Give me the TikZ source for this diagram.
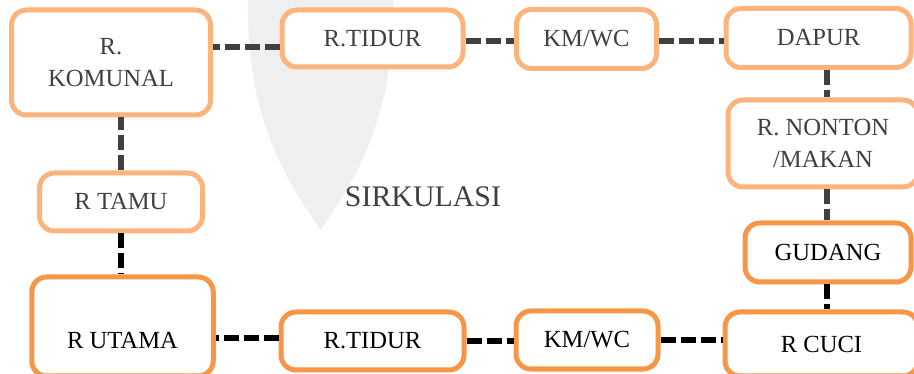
\documentclass[tikz,border=0pt]{standalone}
\usepackage{fontspec}
\setmainfont{Liberation Serif}
\usetikzlibrary{positioning, calc}

\definecolor{orangelight}{RGB}{250,180,124}
\definecolor{orangedark}{RGB}{247,150,70}
\definecolor{inkgray}{RGB}{64,64,64}
\definecolor{pingray}{RGB}{239,239,239}

\tikzset{
  room/.style={draw, rounded corners=0.3cm, line width=0.1cm, fill=white,
    align=center, inner sep=0pt, font=\fontsize{14}{18}\selectfont},
  roomlight/.style={room, draw=orangelight, text=inkgray},
  roomdark/.style={room, draw=orangedark, text=black},
  link/.style={line width=0.12cm, dash pattern=on 0.3cm off 0.1cm, draw=inkgray},
  linkdark/.style={link, draw=black}
}

\begin{document}
\begin{tikzpicture}
      \useasboundingbox (0,0) rectangle (18.28,7.48);
      % faint pin shape behind the plan
      \fill[pingray] (4.96,7.6) .. controls (4.9,5.0) and (5.8,3.8) .. (6.41,2.88)
        .. controls (7.02,3.8) and (7.92,5.0) .. (7.86,7.6) -- cycle;

      % top row
      \node[roomlight, minimum width=3.98cm, minimum height=2.10cm] (komunal) at (2.22,6.23) {R.\\KOMUNAL};
      \node[roomlight, minimum width=3.62cm, minimum height=1.14cm] (tidurA) at (7.45,6.71) {R.TIDUR};
      \node[roomlight, minimum width=2.80cm, minimum height=1.18cm] (kmwcA) at (11.73,6.70) {KM/WC};
      \node[roomlight, minimum width=3.70cm, minimum height=1.18cm] (dapur) at (16.37,6.72) {DAPUR};

      % right column
      \node[roomlight, minimum width=3.80cm, minimum height=1.74cm] (nonton) at (16.46,4.61) {R. NONTON\\/MAKAN};
      \node[roomdark, minimum width=3.32cm, minimum height=1.18cm] (gudang) at (16.56,2.43) {GUDANG};
      \node[roomdark, minimum width=3.86cm, minimum height=1.28cm] (cuci) at (16.43,0.60) {R CUCI};

      % left column and bottom row
      \node[roomlight, minimum width=3.26cm, minimum height=1.16cm] (tamu) at (2.42,3.44) {R TAMU};
      \node[roomdark, minimum width=3.63cm, minimum height=1.98cm, text height=0.87cm, text depth=0pt] (utama) at (2.45,0.95) {R UTAMA};
      \node[roomdark, minimum width=3.66cm, minimum height=1.16cm] (tidurB) at (7.45,0.66) {R.TIDUR};
      \node[roomdark, minimum width=2.84cm, minimum height=1.16cm] (kmwcB) at (11.74,0.68) {KM/WC};

      \node[text=inkgray, font=\fontsize{17}{20}\selectfont] (sirkulasi) at (8.46,3.54) {SIRKULASI};

      \coordinate (col) at (16.54,0);

      % connections
      \draw[link] ([yshift=-0.17cm]tidurA.west) -- ([yshift=-0.17cm]tidurA.west -| komunal.east);
      \draw[link] ([yshift=-0.05cm]tidurA.east) -- ([yshift=-0.05cm]tidurA.east -| kmwcA.west);
      \draw[link] ([yshift=-0.05cm]kmwcA.east) -- ([yshift=-0.05cm]kmwcA.east -| dapur.west);
      \draw[link] (dapur.south -| col) -- (nonton.north -| col);
      \draw[link] (nonton.south -| col) -- (gudang.north -| col);
      \draw[linkdark] (gudang.south -| col) -- (cuci.north -| col);
      \draw[link] (tamu.north) -- (tamu.north |- komunal.south);
      \draw[linkdark] (tamu.south) -- (tamu.south |- utama.north);
      \draw[linkdark] ([yshift=0.05cm]tidurB.west) -- ([yshift=0.05cm]tidurB.west -| utama.east);
      \draw[linkdark] (tidurB.east) -- (tidurB.east -| kmwcB.west);
      \draw[linkdark] (kmwcB.east) -- (kmwcB.east -| cuci.west);
    \end{tikzpicture}
\end{document}
